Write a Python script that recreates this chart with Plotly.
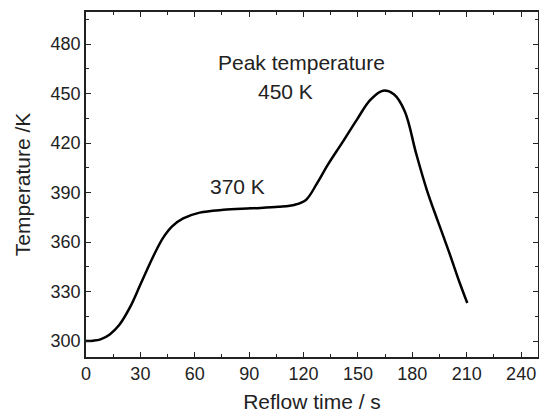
import plotly.graph_objects as go

time_s = [0, 4, 8, 13.1, 18.2, 24.3, 30.3, 37.4, 42.5, 47.5, 53.6, 62.7, 75.8, 91,
          106.2, 115.3, 121.3, 127.4, 133.5, 141.5, 149.6, 156.7, 163.8, 169.8,
          175.9, 182, 188, 194.1, 200.2, 206.2, 210.3]
temp_k = [300, 300.2, 301, 304, 309.5, 320.5, 335, 352, 362.5, 369.5, 374.3, 377.8,
          379.5, 380.4, 381.3, 382.6, 385.5, 395.5, 407, 420.5, 434.5, 446, 451.7,
          449.5, 439, 414, 391.5, 372.5, 354, 335, 323]

x_ticks = [0, 30, 60, 90, 120, 150, 180, 210, 240]
y_ticks = [300, 330, 360, 390, 420, 450, 480]

annotations = [
    ("Peak temperature", 119, 468.8),
    ("450 K", 110.3, 451.2),
    ("370 K", 83.6, 393.5),
]

FONT = "Liberation Sans, Arial, sans-serif"

fig = go.Figure()
fig.add_trace(go.Scatter(x=time_s, y=temp_k, mode="lines",
                         line=dict(color="black", width=2.5, shape="spline", smoothing=1.0),
                         showlegend=False, hoverinfo="skip"))

for txt, ax, ay in annotations:
    fig.add_annotation(x=ax, y=ay, text=txt, showarrow=False,
                       font=dict(family=FONT, size=21, color="#222"),
                       xanchor="center", yanchor="middle")

axis_common = dict(
    showline=True, linecolor="#222", linewidth=1.5, mirror="allticks",
    ticks="inside", ticklen=5, tickwidth=1.2, tickcolor="#222",
    showgrid=False, zeroline=False, automargin=False, ticklabeloverflow="allow",
    tickfont=dict(family=FONT, size=18, color="#222"),
    minor=dict(ticks="inside", ticklen=3, tickwidth=1, tickcolor="#222", showgrid=False),
)

fig.update_xaxes(range=[0, 249.3], tickvals=x_ticks,
                 minor_dtick=15, minor_tick0=0,
                 title=dict(text="Reflow time / s", font=dict(family=FONT, size=21, color="#222"), standoff=11),
                 **axis_common)
fig.update_yaxes(range=[290.3, 499.4], tickvals=y_ticks,
                 minor_dtick=15, minor_tick0=0,
                 title=dict(text="Temperature /K", font=dict(family=FONT, size=21, color="#222"), standoff=14),
                 **axis_common)

fig.update_layout(width=539, height=414, margin=dict(l=86, r=1, t=12, b=57),
                  plot_bgcolor="white", paper_bgcolor="white")

fig.write_html("out.html", config={"displayModeBar": False},
               post_script="document.body.style.margin='0';document.body.style.overflow='hidden';")
